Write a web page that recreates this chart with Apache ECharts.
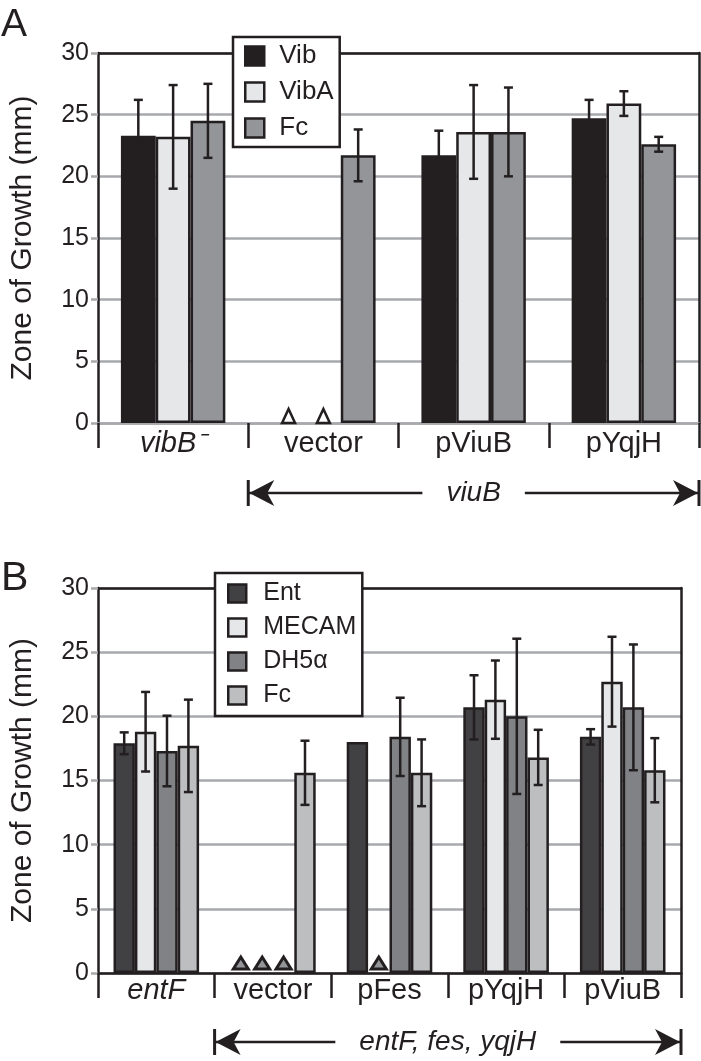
<!DOCTYPE html>
<html><head><meta charset="utf-8">
<script src="https://cdn.jsdelivr.net/npm/echarts@6/dist/echarts.min.js"></script>
<style>
html,body{margin:0;padding:0;background:#fff;}
#a{position:absolute;left:0;top:0;width:701px;height:530px;}
#b{position:absolute;left:0;top:530px;width:701px;height:531px;}
</style>
</head><body>
<div id="a"></div><div id="b"></div>
<script>
// ---------- Panel A data ----------
const catsA = ['vibB⁻', 'vector', 'pViuB', 'pYqjH'];
const namesA = ['Vib', 'VibA', 'Fc'];
const vibVals  = [23.3, 0, 21.7, 24.7];
const vibErr   = [2.9, 0, 2.0, 1.5];
const vibAVals = [23.2, 0, 23.6, 25.9];
const vibAErr  = [4.2, 0, 3.8, 1.0];
const fcAVals  = [24.5, 21.7, 23.6, 22.6];
const fcAErr   = [3.0, 2.1, 3.6, 0.6];
const groupLabelA = 'viuB';

// ---------- Panel B data ----------
const catsB = ['entF', 'vector', 'pFes', 'pYqjH', 'pViuB'];
const namesB = ['Ent', 'MECAM', 'DH5α', 'Fc'];
const entVals   = [17.9, 0, 18.0, 20.7, 18.4];
const entErr    = [0.85, 0, 0, 2.5, 0.6];
const mecamVals = [18.8, 0, 0, 21.3, 22.7];
const mecamErr  = [3.1, 0, 0, 3.05, 3.5];
const dh5aVals  = [17.3, 0, 18.4, 20.0, 20.7];
const dh5aErr   = [2.75, 0, 3.05, 6.05, 4.9];
const fcBVals   = [17.7, 15.6, 15.6, 16.8, 15.8];
const fcBErr    = [3.6, 2.5, 2.6, 2.15, 2.5];
const groupLabelB = 'entF, fes, yqjH';

const yAxisName = 'Zone of Growth (mm)';
const yMin = 0, yMax = 30, yStep = 5;

const INK = '#231f20';
const GRID = '#a7a9ac';
const FONT = '"Liberation Sans", Arial, Helvetica, sans-serif';

function build(cfg) {
  const n = cfg.names.length;
  const series = [];
  cfg.names.forEach((nm, si) => {
    series.push({
      type: 'bar', name: nm, xAxisIndex: 0, yAxisIndex: 0,
      barGap: '0%', barCategoryGap: cfg.gap,
      data: cfg.vals[si].map(v => v === 0 ? null : v),
      itemStyle: { color: cfg.colors[si], borderColor: INK, borderWidth: 2.5 },
      emphasis: { disabled: true }, z: 2
    });
  });
  cfg.names.forEach((nm, si) => {
    const gapFrac = parseFloat(cfg.gap) / 100;
    series.push({
      type: 'custom', xAxisIndex: 0, yAxisIndex: 0, z: 5, silent: true,
      encode: { x: 0, y: 1 },
      data: cfg.vals[si].map((v, i) => [i, v, cfg.errs[si][i]]),
      renderItem(params, api) {
        const ci = api.value(0), v = api.value(1), e = api.value(2);
        const catW = api.size([1, 0])[0];
        const band = catW * (1 - gapFrac);
        const bw = band / n;
        const c0 = api.coord([ci, 0]);
        const x = c0[0] - band / 2 + bw * (si + 0.5);
        if (v === 0) {
          const y0 = c0[1] - cfg.tri.lift;
          const w = cfg.tri.w, h = cfg.tri.h;
          return {
            type: 'polygon',
            shape: { points: [[x - w / 2, y0], [x + w / 2, y0], [x, y0 - h]] },
            style: { fill: cfg.tri.fill, stroke: INK, lineWidth: cfg.tri.lw, lineJoin: 'miter' }
          };
        }
        if (!e) return null;
        const top = api.coord([ci, v + e])[1];
        const bot = api.coord([ci, v - e])[1];
        const cw = 4.5;
        const st = { stroke: INK, lineWidth: 2.5 };
        return {
          type: 'group',
          children: [
            { type: 'line', shape: { x1: x, y1: top, x2: x, y2: bot }, style: st },
            { type: 'line', shape: { x1: x - cw, y1: top, x2: x + cw, y2: top }, style: st },
            { type: 'line', shape: { x1: x - cw, y1: bot, x2: x + cw, y2: bot }, style: st }
          ]
        };
      }
    });
  });

  const labelRich = {
    it: { fontStyle: 'italic', fontSize: cfg.catFont, fontFamily: FONT, color: INK },
    n: { fontSize: cfg.catFont, fontFamily: FONT, color: INK }
  };

  return {
    animation: false,
    textStyle: { fontFamily: FONT },
    grid: { left: 95, right: cfg.right, top: cfg.top, bottom: cfg.bottom, containLabel: false },
    legend: {
      orient: 'vertical', left: cfg.legend.left, top: cfg.legend.top,
      padding: cfg.legend.padding, itemGap: cfg.legend.itemGap,
      itemWidth: cfg.legend.icon, itemHeight: cfg.legend.icon,
      backgroundColor: '#fff', borderColor: INK, borderWidth: 2.5,
      icon: 'rect', selectedMode: false,
      itemStyle: { borderColor: INK, borderWidth: 2.5 },
      formatter: name => '{t|' + name + '}',
      textStyle: {
        fontSize: cfg.legend.font, lineHeight: cfg.legend.lh, color: INK, fontFamily: FONT,
        rich: { t: { fontSize: cfg.legend.font, lineHeight: cfg.legend.lh, color: INK, fontFamily: FONT,
                     padding: [0, 0, 0, cfg.legend.textPad] } }
      },
      data: cfg.names, z: 20
    },
    xAxis: [
      {
        type: 'category', data: cfg.cats, position: 'bottom',
        axisLine: { show: true, onZero: false, lineStyle: { color: cfg.zeroColor, width: 2.5 } },
        axisTick: { show: true, length: 25, interval: 0, lineStyle: { color: INK, width: 2.5 } },
        axisLabel: {
          interval: 0, margin: cfg.labelMargin,
          formatter: (val, idx) => (idx === 0 ? '{it|' + val + '}' : '{n|' + val + '}'),
          rich: labelRich
        },
        splitLine: { show: false }
      },
      {
        type: 'category', data: cfg.cats, position: 'top',
        axisLine: { show: true, onZero: false, lineStyle: { color: INK, width: 2.5 } },
        axisTick: { show: false }, axisLabel: { show: false }
      }
    ],
    yAxis: [
      {
        type: 'value', min: yMin, max: yMax, interval: yStep, position: 'left',
        name: yAxisName, nameLocation: 'middle', nameGap: 60,
        nameTextStyle: { fontSize: 30, color: INK, fontFamily: FONT },
        axisLine: { show: true, lineStyle: { color: INK, width: 2.5 } },
        axisTick: { show: true, length: 7, lineStyle: { color: GRID, width: 2.5 } },
        axisLabel: { fontSize: 25, color: INK, margin: 9, fontFamily: FONT },
        splitLine: { show: true, lineStyle: { color: GRID, width: 2.5 } }
      },
      {
        type: 'value', min: yMin, max: yMax, interval: yStep, position: 'right',
        axisLine: { show: true, lineStyle: { color: INK, width: 2.5 } },
        axisTick: { show: false }, axisLabel: { show: false }, splitLine: { show: false }
      }
    ],
    series: series
  };
}

function addDecor(chart, cats, groupLabel, Y, panelLetter, letterTop, letterSize) {
  const xs = cats.map((c, i) => chart.convertToPixel({ xAxisIndex: 0 }, i));
  const band = xs[2] - xs[1];
  const L = xs[1] - band / 2;
  const R = xs[cats.length - 1] + band / 2;
  const st = { stroke: INK, lineWidth: 2.5 };
  chart.setOption({
    graphic: [
      { type: 'line', shape: { x1: L, y1: Y, x2: R, y2: Y }, style: st, z: 10 },
      { type: 'line', shape: { x1: L, y1: Y - 13, x2: L, y2: Y + 13 }, style: { stroke: INK, lineWidth: 3 }, z: 10 },
      { type: 'line', shape: { x1: R, y1: Y - 13, x2: R, y2: Y + 13 }, style: { stroke: INK, lineWidth: 3 }, z: 10 },
      { type: 'polygon', shape: { points: [[L + 1, Y], [L + 26, Y - 13], [L + 19, Y], [L + 26, Y + 13]] }, style: { fill: INK }, z: 11 },
      { type: 'polygon', shape: { points: [[R - 1, Y], [R - 26, Y - 13], [R - 19, Y], [R - 26, Y + 13]] }, style: { fill: INK }, z: 11 },
      { type: 'text', x: (L + R) / 2, y: Y, z: 12,
        style: { text: groupLabel, fontSize: 28, fontStyle: 'italic', fontFamily: FONT, fill: INK,
                 align: 'center', verticalAlign: 'middle', backgroundColor: '#fff', padding: [2, 24] } },
      { type: 'text', x: 1, y: letterTop, z: 12,
        style: { text: panelLetter, fontSize: letterSize, fontFamily: FONT, fill: INK, align: 'left', verticalAlign: 'top' } }
    ]
  });
}

const chartA = echarts.init(document.getElementById('a'), null, { renderer: 'canvas' });
chartA.setOption(build({
  cats: catsA, names: namesA,
  vals: [vibVals, vibAVals, fcAVals], errs: [vibErr, vibAErr, fcAErr],
  colors: ['#231f20', '#e6e7e8', '#939598'],
  gap: '30.5%', right: 2, top: 53, bottom: 107, zeroColor: GRID, labelMargin: 6, catFont: 29,
  tri: { w: 13, h: 14, lift: 0, fill: '#ffffff', lw: 2.5 },
  legend: { left: 233, top: 37, padding: [6, 6, 6, 11], itemGap: 10, icon: 19, font: 26, lh: 25, textPad: 10 }
}));
addDecor(chartA, catsA, groupLabelA, 493, 'A', 6, 39);

const chartB = echarts.init(document.getElementById('b'), null, { renderer: 'canvas' });
chartB.setOption(build({
  cats: catsB, names: namesB,
  vals: [entVals, mecamVals, dh5aVals, fcBVals], errs: [entErr, mecamErr, dh5aErr, fcBErr],
  colors: ['#414042', '#e6e7e8', '#808285', '#bcbec0'],
  gap: '26.6%', right: 20, top: 58, bottom: 88, zeroColor: INK, labelMargin: 3, catFont: 29,
  tri: { w: 15, h: 12, lift: 4, fill: '#939598', lw: 3 },
  legend: { left: 215, top: 43, padding: [8, 6, 8, 12], itemGap: 9, icon: 18, font: 25, lh: 23, textPad: 12 }
}));
addDecor(chartB, catsB, groupLabelB, 512, 'B', 28, 41);
</script>
</body></html>
